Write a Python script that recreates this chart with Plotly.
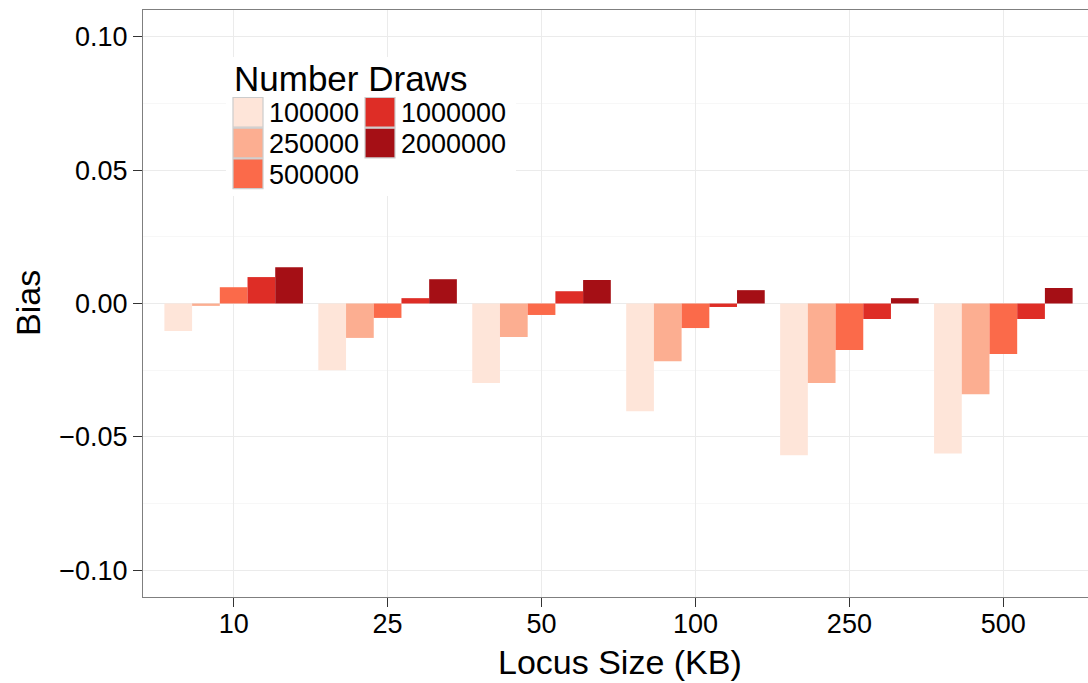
import plotly.graph_objects as go

# ---- data ----
locus_sizes = ["10", "25", "50", "100", "250", "500"]
draw_counts = ["100000", "250000", "500000", "1000000", "2000000"]
bias_100000 = [-0.0103, -0.0250, -0.0298, -0.0404, -0.0569, -0.0562]
bias_250000 = [-0.0009, -0.0129, -0.0126, -0.0216, -0.0298, -0.0340]
bias_500000 = [0.0061, -0.0054, -0.0043, -0.0092, -0.0174, -0.0189]
bias_1000000 = [0.0099, 0.0020, 0.0046, -0.0013, -0.0058, -0.0058]
bias_2000000 = [0.0136, 0.0091, 0.0088, 0.0050, 0.0020, 0.0058]
series = [bias_100000, bias_250000, bias_500000, bias_1000000, bias_2000000]
colors = ["#FEE5D9", "#FCAE91", "#FB6A4A", "#DE2D26", "#A50F15"]
y_tickvals = [-0.10, -0.05, 0.0, 0.05, 0.10]
y_ticktext = ["\u22120.10", "\u22120.05", "0.00", "0.05", "0.10"]

W, H = 1088, 683
L, R, T, B = 143, 0, 10, 86
PW, PH = W - L - R, H - T - B
FONT = "Liberation Sans, Arial, Helvetica, sans-serif"

def px(xp):
    return (xp - L) / PW

def py(yp):
    return (H - B - yp) / PH

fig = go.Figure()
for name, vals, col in zip(draw_counts, series, colors):
    fig.add_trace(go.Bar(x=locus_sizes, y=vals, name=name,
                         marker=dict(color=col, line=dict(width=0)),
                         showlegend=False))

fig.update_layout(
    width=W, height=H,
    margin=dict(l=L, r=R, t=T, b=B, pad=0),
    paper_bgcolor="white", plot_bgcolor="white",
    barmode="group", bargap=0.1, bargroupgap=0,
    font=dict(family=FONT, color="black", size=27),
)
fig.update_xaxes(
    type="category", range=[-0.589, 5.55],
    showgrid=True, gridcolor="#EBEBEB", gridwidth=1.2,
    showline=True, linecolor="#7F7F7F", linewidth=1.2, mirror=True,
    ticks="outside", ticklen=9, tickcolor="#333333", tickwidth=1.2,
    ticklabelstandoff=-7,
    tickfont=dict(size=27, color="black", family=FONT),
    zeroline=False,
)
fig.update_yaxes(
    range=[-0.11, 0.11],
    tickvals=y_tickvals, ticktext=y_ticktext,
    showgrid=True, gridcolor="#EBEBEB", gridwidth=1.2,
    minor=dict(tick0=0.025, dtick=0.05, showgrid=True, gridcolor="#F7F7F7", gridwidth=1.2, ticks=""),
    showline=True, linecolor="#7F7F7F", linewidth=1.2, mirror=False,
    ticks="outside", ticklen=9, tickcolor="#333333", tickwidth=1.2,
    tickfont=dict(size=27, color="black", family=FONT),
    zeroline=False,
)

shapes = []
annotations = []
# legend background
shapes.append(dict(type="rect", xref="paper", yref="paper",
                   x0=px(226), x1=px(516), y0=py(196), y1=py(57),
                   fillcolor="white", line=dict(width=0), layer="above"))
annotations.append(dict(text="Number Draws", xref="paper", yref="paper",
                        x=px(232), y=py(79), xanchor="left", yanchor="middle",
                        showarrow=False, font=dict(size=35, family=FONT, color="black")))
key_cols = [233, 365]
key_top = 97
key_h = 30.7
for i, (name, col) in enumerate(zip(draw_counts, colors)):
    c, r = divmod(i, 3)
    x0 = key_cols[c]
    y0 = key_top + r * key_h
    shapes.append(dict(type="rect", xref="paper", yref="paper",
                       x0=px(x0), x1=px(x0 + 30), y0=py(y0 + key_h - 0.5), y1=py(y0 + 0.5),
                       fillcolor=col, line=dict(color="#CCCCCC", width=1.2), layer="above"))
    annotations.append(dict(text=name, xref="paper", yref="paper",
                            x=px(x0 + 34), y=py(y0 + key_h / 2 + 1), xanchor="left", yanchor="middle",
                            showarrow=False, font=dict(size=27, family=FONT, color="black")))

annotations.append(dict(text="Bias", xref="paper", yref="paper",
                        x=px(28), y=py(303), xanchor="center", yanchor="middle",
                        textangle=-90, showarrow=False, font=dict(size=34, family=FONT, color="black")))
annotations.append(dict(text="Locus Size (KB)", xref="paper", yref="paper",
                        x=px(620), y=py(662), xanchor="center", yanchor="middle",
                        showarrow=False, font=dict(size=34, family=FONT, color="black")))
fig.update_layout(shapes=shapes, annotations=annotations)

fig.write_html("out.html",
               config={"displayModeBar": False},
               post_script="document.body.style.margin='0';document.body.style.overflow='hidden';")
